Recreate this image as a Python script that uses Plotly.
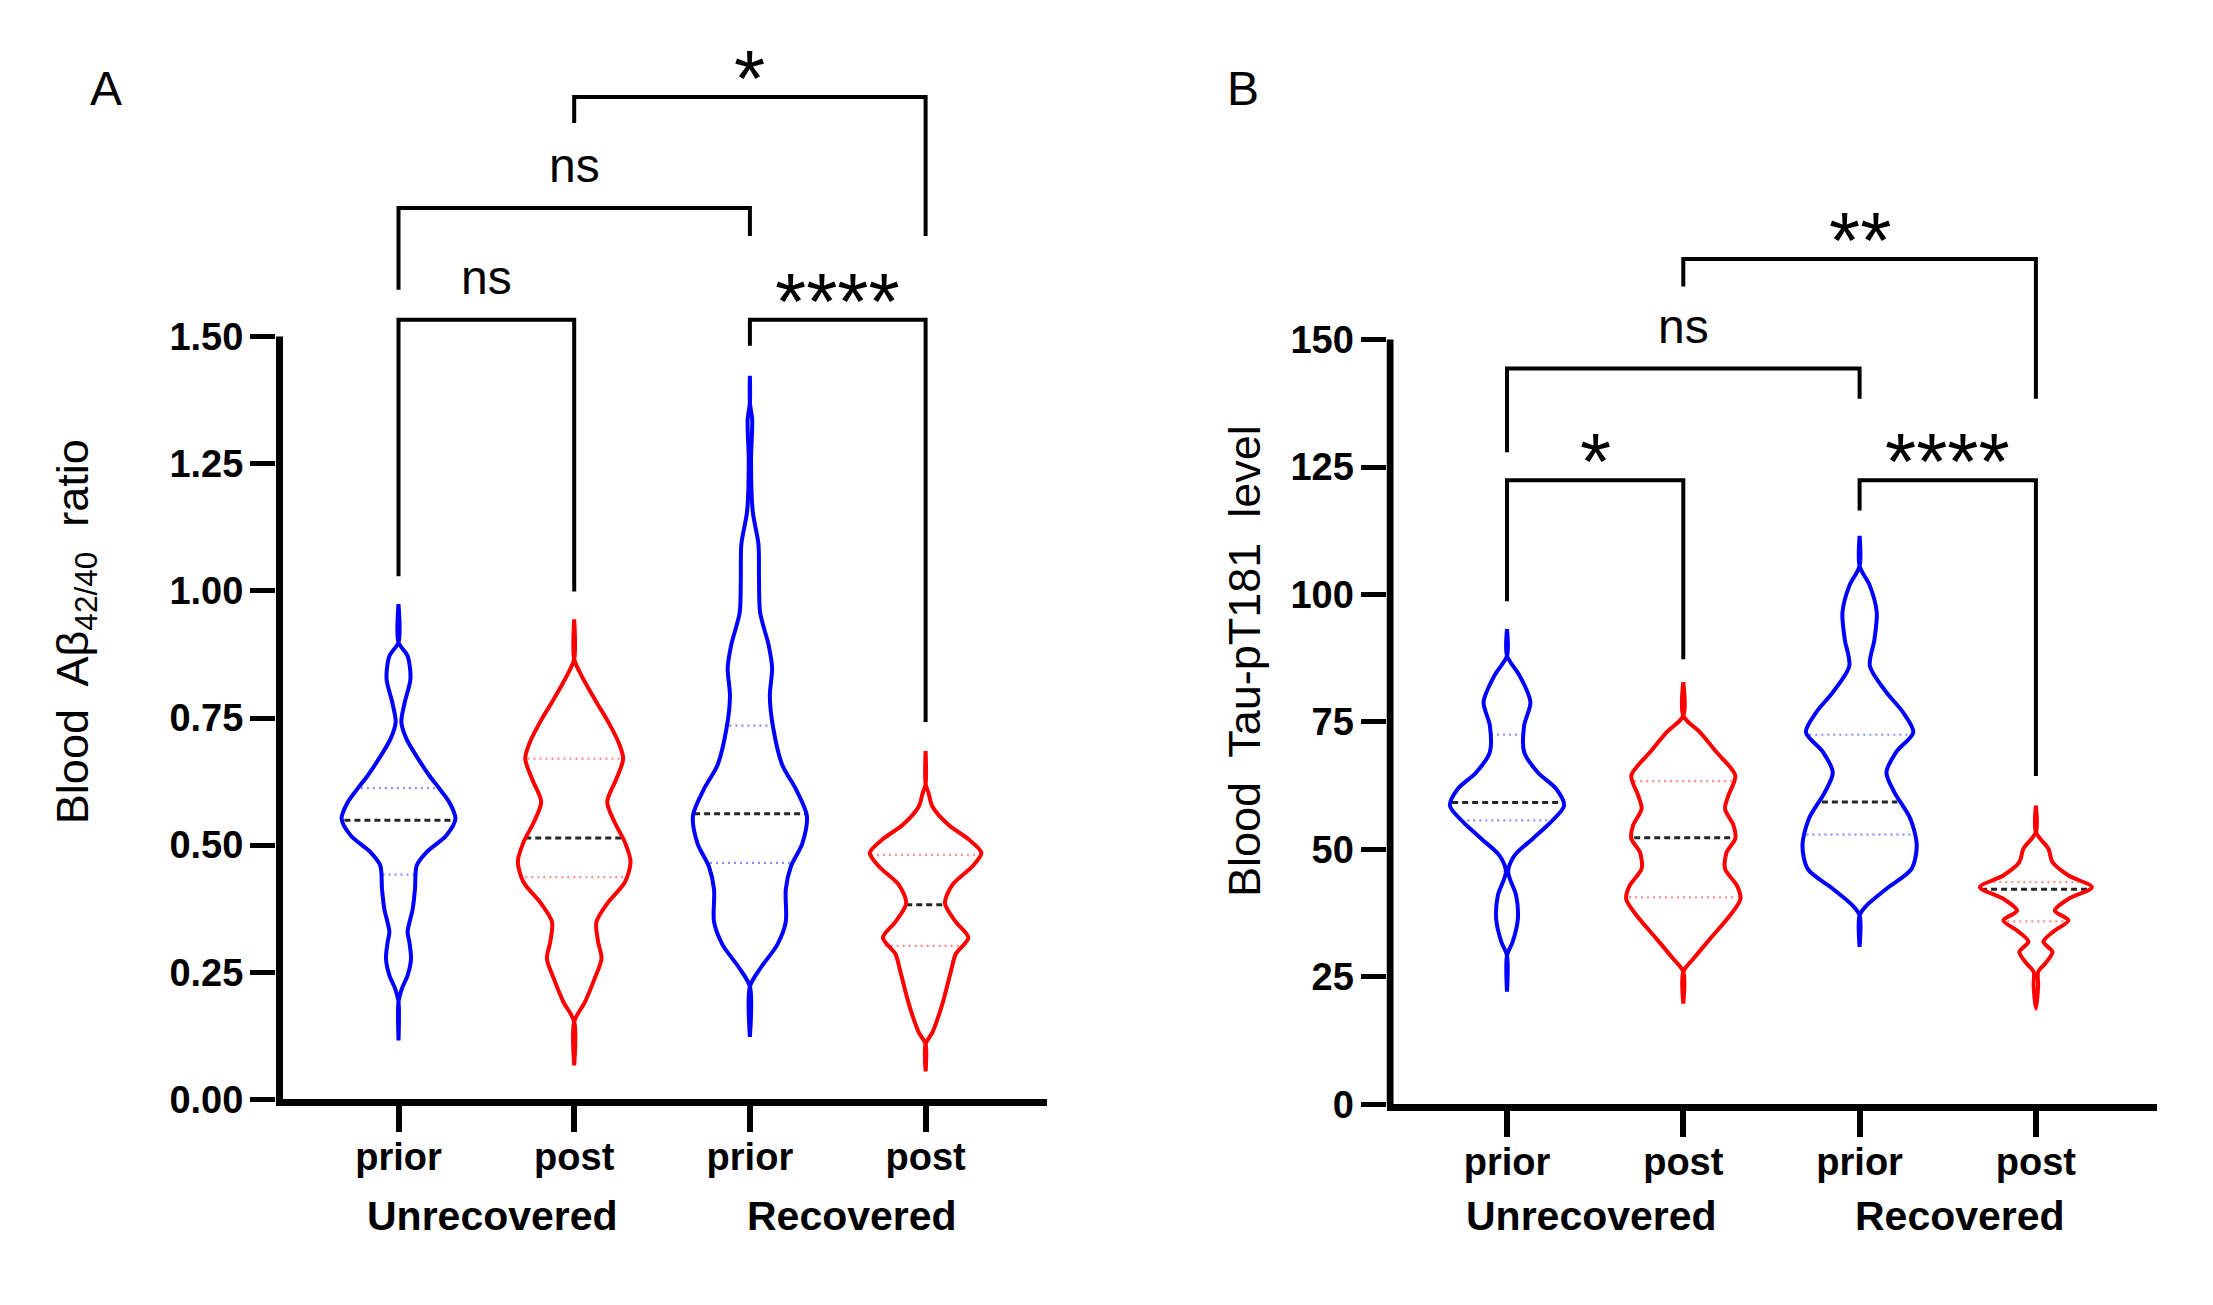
import plotly.graph_objects as go

W, H = 2213, 1305          # page size in pixels
OFF = 8                    # default page margin around the figure
FW, FH = W - 2 * OFF, H - 2 * OFF
YK = 1.015                 # vertical calibration of the pixel readings

categories = ["prior", "post", "prior", "post"]
groups = ["Unrecovered", "Recovered"]

# ---------------- Panel A : Blood Aβ42/40 ratio ----------------
# violin outline profiles: level and relative density (1 = widest)
a_unrec_prior_y = [0.974, 0.899, 0.872, 0.827, 0.781, 0.742, 0.709, 0.676, 0.637, 0.611, 0.585, 0.552,
                   0.519, 0.486, 0.460, 0.414, 0.375, 0.329, 0.310, 0.277, 0.244, 0.218, 0.192, 0.116]
a_unrec_prior_d = [0.0, 0.0, 0.16, 0.21, 0.11, 0.05, 0.14, 0.31, 0.54, 0.72, 0.89, 1.0,
                   0.84, 0.49, 0.32, 0.29, 0.25, 0.16, 0.19, 0.22, 0.16, 0.06, 0.0, 0.0]
a_unrec_post_y = [0.944, 0.866, 0.833, 0.787, 0.742, 0.702, 0.670, 0.630, 0.585, 0.545, 0.506, 0.467,
                  0.427, 0.388, 0.349, 0.310, 0.277, 0.238, 0.192, 0.153, 0.067]
a_unrec_post_d = [0.0, 0.0, 0.13, 0.36, 0.60, 0.78, 0.86, 0.74, 0.58, 0.71, 0.89, 0.99,
                  0.89, 0.60, 0.39, 0.42, 0.48, 0.36, 0.19, 0.0, 0.0]
a_rec_prior_y = [1.423, 1.370, 1.337, 1.256, 1.156, 1.092, 1.020, 0.957, 0.893, 0.848, 0.793, 0.730,
                 0.657, 0.612, 0.558, 0.503, 0.458, 0.413, 0.349, 0.304, 0.259, 0.222, 0.123]
a_rec_prior_d = [0.0, 0.0, 0.04, 0.02, 0.05, 0.15, 0.16, 0.18, 0.33, 0.39, 0.35, 0.41,
                 0.57, 0.80, 1.0, 0.92, 0.72, 0.63, 0.63, 0.48, 0.19, 0.0, 0.0]
a_rec_post_y = [0.685, 0.620, 0.603, 0.576, 0.540, 0.512, 0.485, 0.458, 0.422, 0.386, 0.349, 0.318,
                0.286, 0.250, 0.186, 0.132, 0.109, 0.055]
a_rec_post_d = [0.0, 0.0, 0.05, 0.12, 0.40, 0.75, 0.98, 0.82, 0.47, 0.34, 0.53, 0.75,
                0.53, 0.44, 0.29, 0.12, 0.0, 0.0]
a_median = [0.549, 0.514, 0.562, 0.383]
a_median_d = [0.95, 0.86, 0.98, 0.34]
a_q3 = [0.612, 0.670, 0.735, 0.481]
a_q3_d = [0.66, 0.82, 0.36, 0.96]
a_q1 = [0.442, 0.437, 0.465, 0.302]
a_q1_d = [0.28, 0.86, 0.70, 0.72]
a_yticks = [0.0, 0.25, 0.50, 0.75, 1.00, 1.25, 1.50]
a_ytick_text = ["0.00", "0.25", "0.50", "0.75", "1.00", "1.25", "1.50"]
# comparisons
a_comp_left = [0, 0, 1, 2]
a_comp_right = [1, 2, 3, 3]
a_comp_bar = [1.533, 1.753, 1.971, 1.533]
a_comp_left_end = [1.029, 1.592, 1.920, 1.482]
a_comp_right_end = [0.999, 1.698, 1.698, 0.742]
a_comp_label = ["ns", "ns", "*", "****"]

# ---------------- Panel B : Blood Tau-pT181 level ----------------
b_unrec_prior_y = [93.2, 88.0, 84.1, 78.9, 74.3, 69.1, 65.1, 61.9, 58.6, 55.4, 52.1, 48.8,
                   45.6, 41.0, 36.4, 31.9, 29.2, 22.1]
b_unrec_prior_d = [0.0, 0.0, 0.22, 0.41, 0.30, 0.30, 0.54, 0.86, 1.0, 0.77, 0.45, 0.13,
                   0.02, 0.16, 0.19, 0.10, 0.0, 0.0]
b_unrec_post_y = [82.8, 76.2, 73.0, 69.1, 64.5, 60.6, 58.0, 54.7, 52.1, 49.5, 46.2, 42.9,
                  40.3, 37.1, 32.5, 28.6, 26.0, 19.8]
b_unrec_post_d = [0.0, 0.0, 0.29, 0.58, 0.91, 0.79, 0.73, 0.88, 0.91, 0.76, 0.73, 0.94,
                  1.0, 0.82, 0.47, 0.18, 0.0, 0.0]
b_rec_prior_y = [111.5, 105.6, 101.7, 96.5, 91.2, 86.0, 80.8, 76.9, 73.0, 69.1, 65.1, 61.2,
                 56.0, 50.8, 46.2, 42.3, 39.0, 37.1, 30.9]
b_rec_prior_d = [0.0, 0.0, 0.18, 0.30, 0.26, 0.18, 0.47, 0.76, 0.94, 0.64, 0.47, 0.61,
                 0.89, 1.0, 0.91, 0.47, 0.12, 0.0, 0.0]
b_rec_post_y = [58.6, 53.4, 50.1, 47.5, 44.9, 42.6, 40.3, 38.0, 36.1, 34.1, 31.9, 29.9,
                27.6, 26.0, 23.4, 18.8]
b_rec_post_d = [0.0, 0.0, 0.22, 0.29, 0.57, 0.98, 0.57, 0.33, 0.57, 0.33, 0.13, 0.29,
                0.16, 0.04, 0.04, 0.0]
b_median = [59.2, 52.3, 59.3, 42.2]
b_median_d = [0.96, 0.86, 0.66, 0.96]
b_q3 = [72.5, 63.4, 72.5, 43.6]
b_q3_d = [0.28, 0.86, 0.88, 0.85]
b_q1 = [55.7, 40.6, 52.9, 35.9]
b_q1_d = [0.80, 0.95, 0.93, 0.50]
b_yticks = [0, 25, 50, 75, 100, 125, 150]
b_ytick_text = ["0", "25", "50", "75", "100", "125", "150"]
b_comp_left = [0, 0, 1, 2]
b_comp_right = [1, 2, 3, 3]
b_comp_bar = [122.4, 144.3, 165.8, 122.4]
b_comp_left_end = [98.7, 127.9, 160.4, 116.5]
b_comp_right_end = [87.3, 138.4, 138.4, 64.4]
b_comp_label = ["*", "ns", "**", "****"]

# ---------------- styles ----------------
FONT = "Liberation Sans, Arial, sans-serif"
BLUE, RED = "#0000FF", "#FF0000"
LBLUE, LRED = "#8C8CFF", "#FF8C8C"
COLORS = [BLUE, RED, BLUE, RED]
QCOLORS = [LBLUE, LRED, LBLUE, LRED]
HALF = 0.324  # half width of widest violin in category units


def px2paper_x(px):
    return (px - OFF) / FW


def px2paper_y(py):
    return 1 - (py * YK - OFF) / FH


fig = go.Figure()

panels = [
    dict(xa="x", ya="y", prof=[(a_unrec_prior_y, a_unrec_prior_d), (a_unrec_post_y, a_unrec_post_d),
                               (a_rec_prior_y, a_rec_prior_d), (a_rec_post_y, a_rec_post_d)],
         med=a_median, medd=a_median_d, q3=a_q3, q3d=a_q3_d, q1=a_q1, q1d=a_q1_d,
         cl=a_comp_left, cr=a_comp_right, cb=a_comp_bar, cle=a_comp_left_end, cre=a_comp_right_end,
         lab=a_comp_label),
    dict(xa="x2", ya="y2", prof=[(b_unrec_prior_y, b_unrec_prior_d), (b_unrec_post_y, b_unrec_post_d),
                                 (b_rec_prior_y, b_rec_prior_d), (b_rec_post_y, b_rec_post_d)],
         med=b_median, medd=b_median_d, q3=b_q3, q3d=b_q3_d, q1=b_q1, q1d=b_q1_d,
         cl=b_comp_left, cr=b_comp_right, cb=b_comp_bar, cle=b_comp_left_end, cre=b_comp_right_end,
         lab=b_comp_label),
]

annotations = []

for p in panels:
    xa, ya = p["xa"], p["ya"]
    for i in range(4):
        # quartile lines
        for lv, dv in ((p["q3"][i], p["q3d"][i]), (p["q1"][i], p["q1d"][i])):
            fig.add_trace(go.Scatter(x=[i - HALF * dv, i + HALF * dv], y=[lv, lv], mode="lines",
                                     line=dict(color=QCOLORS[i], width=2.2, dash="2px,4px"),
                                     xaxis=xa, yaxis=ya, showlegend=False, hoverinfo="skip"))
        dv = p["medd"][i]
        fig.add_trace(go.Scatter(x=[i - HALF * dv, i + HALF * dv], y=[p["med"][i]] * 2, mode="lines",
                                 line=dict(color="#262626", width=3, dash="6px,4px"),
                                 xaxis=xa, yaxis=ya, showlegend=False, hoverinfo="skip"))
        ys, ds = p["prof"][i]
        xs = [i - HALF * d for d in ds] + [i + HALF * d for d in ds[-2::-1]]
        yy = list(ys) + list(ys[-2::-1])
        fig.add_trace(go.Scatter(x=xs, y=yy, mode="lines",
                                 line=dict(color=COLORS[i], width=4, shape="spline", smoothing=0.8),
                                 xaxis=xa, yaxis=ya, showlegend=False, hoverinfo="skip"))
    # comparison brackets
    for k in range(4):
        l, r = p["cl"][k], p["cr"][k]
        fig.add_trace(go.Scatter(x=[l, l, r, r], y=[p["cle"][k], p["cb"][k], p["cb"][k], p["cre"][k]],
                                 mode="lines", line=dict(color="black", width=4),
                                 xaxis=xa, yaxis=ya, showlegend=False, hoverinfo="skip"))
        lab = p["lab"][k]
        if lab == "ns":
            annotations.append(dict(x=(l + r) / 2, y=p["cb"][k], xref=xa, yref=ya, text=lab,
                                    showarrow=False, xanchor="center", yanchor="bottom", yshift=14,
                                    font=dict(family=FONT, size=48, color="black")))
        else:
            annotations.append(dict(x=(l + r) / 2, y=p["cb"][k], xref=xa, yref=ya, text=lab,
                                    showarrow=False, xanchor="center", yanchor="bottom", yshift=-28,
                                    font=dict(family=FONT, size=80, color="black")))

# axis geometry (page pixels of the reference)
A_LEFT, A_RIGHT, A_BOTTOM = 276, 1047, 1101
B_LEFT, B_RIGHT, B_BOTTOM = 1386.5, 2157, 1106
TOP = 24
A_X0, B_X0 = 398.5, 1507
A_CAT, B_CAT = 175.7, 176.3      # pixels per category
A_UNIT, B_UNIT = 509.33, 5.107   # pixels per y unit

a_rng = [(A_LEFT - A_X0) / A_CAT, (A_RIGHT - A_X0) / A_CAT]
b_rng = [(B_LEFT - B_X0) / B_CAT, (B_RIGHT - B_X0) / B_CAT]

# y axis lines (only up to the top tick)
fig.add_trace(go.Scatter(x=[a_rng[0] + 3.5 / A_CAT] * 2, y=[0, a_yticks[-1]], mode="lines",
                         line=dict(color="black", width=7), xaxis="x", yaxis="y",
                         showlegend=False, hoverinfo="skip"))
fig.add_trace(go.Scatter(x=[b_rng[0] + 3.5 / B_CAT] * 2, y=[0, b_yticks[-1]], mode="lines",
                         line=dict(color="black", width=7), xaxis="x2", yaxis="y2",
                         showlegend=False, hoverinfo="skip"))

tickfont = dict(family=FONT, size=38, color="black", weight="bold")
common_x = dict(tickmode="array", tickvals=[0, 1, 2, 3], ticktext=categories, ticks="outside",
                ticklen=26, tickwidth=6, tickcolor="black", showline=True, linewidth=7,
                linecolor="black", showgrid=False, zeroline=False, tickfont=tickfont,
                ticklabelstandoff=-8)
common_y = dict(tickmode="array", ticks="outside", ticklen=25, tickwidth=5, tickcolor="black",
                showline=False, showgrid=False, zeroline=False, tickfont=tickfont,
                ticklabelstandoff=-1)

fig.update_layout(
    width=FW, height=FH, margin=dict(l=0, r=0, t=0, b=0),
    paper_bgcolor="white", plot_bgcolor="white", showlegend=False,
    xaxis=dict(domain=[px2paper_x(A_LEFT), px2paper_x(A_RIGHT)], range=a_rng, anchor="y", **common_x),
    yaxis=dict(domain=[px2paper_y(A_BOTTOM), px2paper_y(TOP)], range=[0, (A_BOTTOM - TOP) / A_UNIT],
               anchor="x", tickvals=a_yticks, ticktext=a_ytick_text, **common_y),
    xaxis2=dict(domain=[px2paper_x(B_LEFT), px2paper_x(B_RIGHT)], range=b_rng, anchor="y2", **common_x),
    yaxis2=dict(domain=[px2paper_y(B_BOTTOM), px2paper_y(TOP)], range=[0, (B_BOTTOM - TOP) / B_UNIT],
                anchor="x2", tickvals=b_yticks, ticktext=b_ytick_text, **common_y),
)

gfont = dict(family=FONT, size=41, color="black", weight="bold")
group_shift = {"x": (6, 14), "x2": (-4, 12)}
for xa in ("x", "x2"):
    for g, gx, sh in zip(groups, (0.5, 2.5), group_shift[xa]):
        annotations.append(dict(x=gx, y=px2paper_y(1218), xref=xa, yref="paper", text=g,
                                showarrow=False, xshift=sh, xanchor="center", yanchor="middle",
                                font=gfont))

annotations += [
    dict(x=px2paper_x(106), y=px2paper_y(89), xref="paper", yref="paper", text="A", showarrow=False,
         xanchor="center", yanchor="middle", font=dict(family=FONT, size=48, color="black")),
    dict(x=px2paper_x(1243), y=px2paper_y(89), xref="paper", yref="paper", text="B", showarrow=False,
         xanchor="center", yanchor="middle", font=dict(family=FONT, size=48, color="black")),
    dict(x=px2paper_x(75), y=px2paper_y(633), xref="paper", yref="paper",
         text="Blood  A\u03b2<sub>42/40</sub>  ratio", textangle=-90, showarrow=False,
         xanchor="center", yanchor="middle", font=dict(family=FONT, size=45, color="black")),
    dict(x=px2paper_x(1244), y=px2paper_y(662), xref="paper", yref="paper",
         text="Blood  Tau-pT181  level", textangle=-90, showarrow=False,
         xanchor="center", yanchor="middle", font=dict(family=FONT, size=45, color="black")),
]
fig.update_layout(annotations=annotations)

fig.write_html("out.html")
